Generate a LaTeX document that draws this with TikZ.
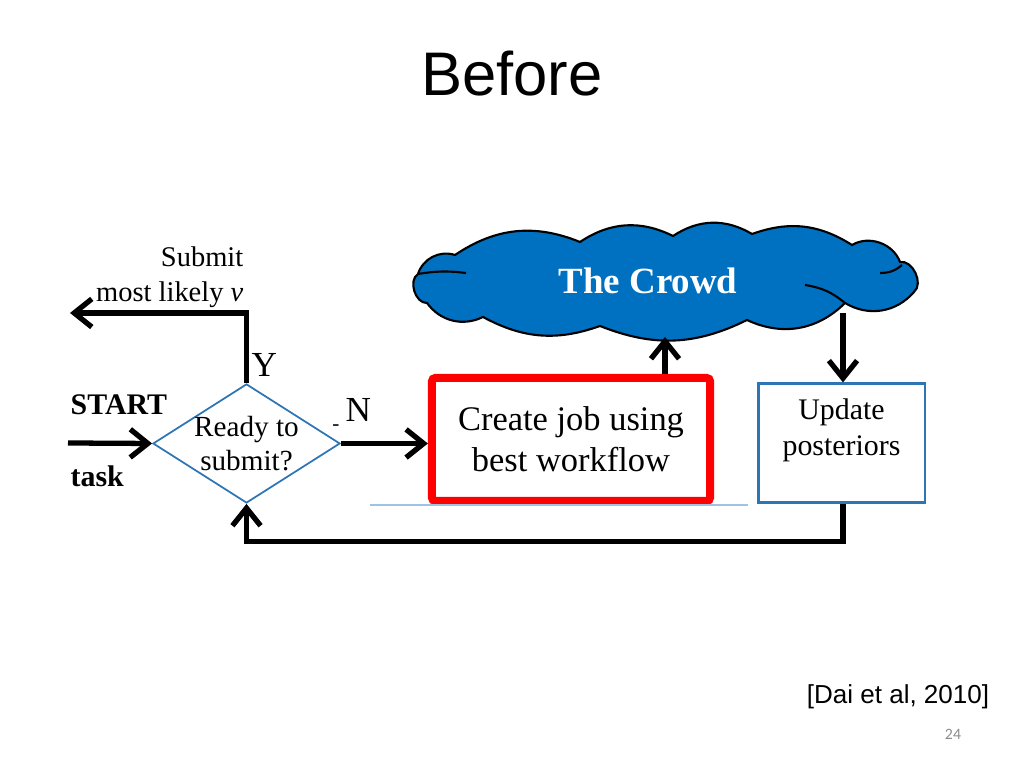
\documentclass[tikz,border=0pt]{standalone}
\usepackage{fontspec}
\setmainfont{Liberation Serif}
\newfontfamily\arialfont{Liberation Sans}
\newfontfamily\calibrifont{Carlito}
\usetikzlibrary{arrows.meta,positioning,shapes.geometric}
\definecolor{crowdblue}{HTML}{0070C0}
\definecolor{boxblue}{HTML}{2E75B6}
\definecolor{paleblue}{HTML}{9DC3E6}
\definecolor{pagegray}{HTML}{8C8C8C}

\begin{document}
\begin{tikzpicture}[
		x={(0.01cm,0)}, y={(0,-0.01cm)},
		flow/.style={draw=black, line width=1.5pt, -{Straight Barb[length=5pt,width=8pt,line width=1.5pt]}},
		decision/.style={diamond, draw=boxblue, line width=0.5pt, inner sep=-0.5pt, aspect=1.57,
			minimum width=1.87cm, minimum height=1.19cm, align=center, font=\fontsize{8.3}{9.5}\selectfont},
		jobbox/.style={draw=red, line width=2.3pt, rounded corners=1pt, minimum width=2.78cm,
			minimum height=1.23cm, align=center, font=\fontsize{9.8}{11.6}\selectfont},
		updbox/.style={draw=boxblue, line width=0.6pt, minimum width=1.66cm, minimum height=1.19cm},
		cloudline/.style={draw=black, line width=0.6pt, fill=crowdblue},
		lbl/.style={font=\fontsize{8.1}{10}\selectfont, inner sep=0pt},
		biglbl/.style={font=\fontsize{10}{11}\selectfont, inner sep=0pt}
		]
		\useasboundingbox (0,0) rectangle (1024,768);
		
		% title
		\node[font=\arialfont\fontsize{17.5}{19}\selectfont] (title) at (512,74) {Before};
		
		% --------------------------------------------------
		% the crowd (cloud outline)
		% --------------------------------------------------
		\draw[cloudline] (455,255) to[bend left=28] (580,242) to[bend left=30] (673,236)
			to[bend left=32] (752,234) to[bend left=26] (852,245) to[bend left=50] (900,262)
			to[bend left=75] (914,292) to[bend left=40] (845,303) to[bend left=35] (747,320)
			to[bend left=24] (600,326) to[bend left=24] (483,317) to[bend left=40] (427,303)
			to[bend left=75] (418,274) to[bend left=45] (455,255) -- cycle;
		\draw[line width=0.6pt] (418,274) to[bend left=8] (466,273);
		\draw[line width=0.6pt] (805,285) to[bend left=15] (845,303);
		\draw[line width=0.6pt] (880,273) to[bend right=20] (902,265);
		\node[text=white, font=\fontsize{10.5}{12}\selectfont\bfseries] (crowd) at (648,281) {The Crowd};
		
		% --------------------------------------------------
		% nodes
		% --------------------------------------------------
		\node[decision] (ready) at (246.5,443.5) {Ready to\\submit?};
		\node[jobbox] (create) at (571,439.5) {Create job using\\best workflow};
		\node[updbox, label={[anchor=north, align=center, yshift=-1pt, font=\fontsize{8.5}{10.3}\selectfont]north:Update\\posteriors}] (upd) at (841.5,443) {};
		
		\draw[paleblue, line width=0.4pt] (370,505) -- (748,505);
		
		% free ends
		\coordinate (startin) at (68,443);
		\coordinate (outY) at (70,313);
		\coordinate (cin) at (665,337);
		\coordinate (cout) at (843,313);
		
		% --------------------------------------------------
		% labels
		% --------------------------------------------------
		\node[lbl, align=right, anchor=east] (submit) at (244,277) {Submit\\most likely \textit{v}};
		\node[lbl, font=\fontsize{8.5}{10}\selectfont\bfseries, anchor=west] (start) at (70,405) {START};
		\node[lbl, font=\fontsize{8.5}{10}\selectfont\bfseries, anchor=west] (task) at (70,476) {task};
		\node[biglbl, anchor=west] (ylab) at (251,365) {Y};
		\node[biglbl, anchor=west] (nlab) at (345,410) {N};
		\node[lbl, font=\fontsize{6}{7}\selectfont] (dash) at (336,428) {-};
		
		% --------------------------------------------------
		% connectors
		% --------------------------------------------------
		\draw[flow] (startin) -- (ready.west);
		\draw[flow] (ready.north) |- (outY);
		\draw[flow] (ready.east) -- (create.west |- ready.east);
		\draw[flow] (create.north -| cin) -- (cin);
		\draw[flow] (cout) -- (upd.north -| cout);
		\draw[flow] (upd.south -| cout) -- ++(0,38) -| (ready.south);
		
		% footer
		\node[font=\arialfont\fontsize{7.4}{8}\selectfont] (cite) at (898,697) {[Dai et al, 2010]};
		\node[font=\calibrifont\fontsize{4.5}{5}\selectfont, text=pagegray] (page) at (953,734) {24};
		
	\end{tikzpicture}
\end{document}
